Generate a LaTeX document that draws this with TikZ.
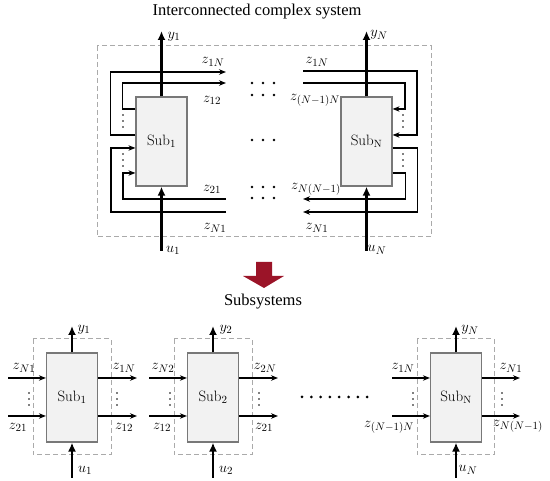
\documentclass[tikz,border=0pt]{standalone}
\usepackage{fontspec}
\newfontfamily\titlefont{Liberation Serif}
\usetikzlibrary{arrows.meta,calc}
\definecolor{boxgray}{RGB}{242,242,242}
\definecolor{edgegray}{RGB}{120,120,120}
\definecolor{dashgray}{RGB}{170,170,170}
\definecolor{darkred}{RGB}{155,20,40}
\tikzset{
  blk/.style={draw=edgegray, fill=boxgray, line width=1.2pt, minimum width=51pt, minimum height=89pt, inner sep=0pt, font=\fontsize{15}{17}\selectfont},
  frame/.style={draw=dashgray, dash pattern=on 5pt off 3pt, line width=1pt},
  sig/.style={line width=1.3pt, -{Stealth[length=7pt,width=5.5pt]}},
  io/.style={line width=2.8pt, -{Latex[length=9pt,width=8pt]}},
  lbl/.style={font=\fontsize{15}{17}\selectfont, inner sep=0pt},
  ttl/.style={font=\titlefont\fontsize{16.5}{18}\selectfont, inner sep=0pt},
  dotf/.style={fill=black},
}
\newcommand{\vdotsat}[2]{%
  \foreach \dd in {-6,0,6}{\fill[dotf] (#1,#2+\dd) circle (0.9pt);}%
}
\begin{document}
\begin{tikzpicture}[x=1pt,y=-1pt]
\path[use as bounding box] (0,0) rectangle (550,481);

% ---------- top: interconnected system ----------
\node[ttl] (title) at (257,12) {Interconnected complex system};
\draw[frame] (97,46) rectangle (431,237);
\node[blk] (S1) at (161.5,141.5) {$\mathrm{Sub}_1$};
\node[blk] (SN) at (366.5,141.5) {$\mathrm{Sub}_\mathrm{N}$};

\coordinate (ty1) at (161.5,31);
\coordinate (tu1) at (161.5,251);
\coordinate (tyN) at (366.5,31);
\coordinate (tuN) at (366.5,251);
\draw[io] (S1.north) -- (ty1);
\draw[io] (tu1) -- (S1.south);
\draw[io] (SN.north) -- (tyN);
\draw[io] (tuN) -- (SN.south);
\node[lbl] (ly1) at (174,37) {$y_1$};
\node[lbl] (lu1) at (173,250) {$u_1$};
\node[lbl] (lyN) at (379,35) {$y_N$};
\node[lbl] (luN) at (377,250) {$u_N$};

% Sub1 feedback lines
\coordinate (o1) at (226,72);
\coordinate (i1) at (226,83);
\coordinate (bi1) at (226,199);
\coordinate (bo1) at (226,212);
\draw[sig] ([yshift=6.5pt]S1.west) -- ++(-25,0) |- (o1);
\draw[sig] ([yshift=32.5pt]S1.west) -- ++(-13,0) |- (i1);
\draw[sig] (bi1) -- ++(-103,0) |- ([yshift=-31.5pt]S1.west);
\draw[sig] (bo1) -- ++(-115,0) |- ([yshift=-6.5pt]S1.west);
\node[lbl] (t1a) at (213,62) {$z_{1N}$};
\node[lbl] (t1b) at (212,100) {$z_{12}$};
\node[lbl] (t1c) at (212,189) {$z_{21}$};
\node[lbl] (t1d) at (215,228) {$z_{N1}$};
\vdotsat{123}{121}
\vdotsat{123}{160}

% SubN feedback lines
\coordinate (oN) at (303,71);
\coordinate (iN) at (303,83);
\coordinate (biN) at (303,199);
\coordinate (boN) at (303,212);
\draw[sig] (oN) -- ++(114,0) |- ([yshift=6.5pt]SN.east);
\draw[sig] (iN) -- ++(102,0) |- ([yshift=32.5pt]SN.east);
\draw[sig] ([yshift=-31.5pt]SN.east) -- ++(13,0) |- (biN);
\draw[sig] ([yshift=-6.5pt]SN.east) -- ++(25,0) |- (boN);
\node[lbl] (tNa) at (317,62) {$z_{1N}$};
\node[lbl] (tNb) at (315,100) {$z_{(N-1)N}$};
\node[lbl] (tNc) at (316,189) {$z_{N(N-1)}$};
\node[lbl] (tNd) at (317,228) {$z_{N1}$};
\vdotsat{403}{121}
\vdotsat{403}{160}

% middle dots
\foreach \yy in {83,95,140,187,198}{
  \foreach \xx in {252,263,274}{
    \fill[dotf] (\xx,\yy) circle (1.4pt);
  }
}

% ---------- red arrow ----------
\fill[darkred] (256,262) -- (272,262) -- (272,276) -- (284,276) -- (264,288) -- (243,276) -- (256,276) -- cycle;
\node[ttl] (subtitle) at (263,302) {Subsystems};

% ---------- bottom: subsystems ----------
% Sub1
\draw[frame] (33,339) rectangle (111,455);
\node[blk] (B1) at (72,397.5) {$\mathrm{Sub}_1$};
\coordinate (by1) at (72,326);
\coordinate (bu1) at (72,478);
\draw[io] (B1.north) -- (by1);
\draw[io] (bu1) -- (B1.south);
\coordinate (in1a) at (8,378);
\coordinate (in1b) at (8,416);
\coordinate (out1a) at (137,378);
\coordinate (out1b) at (137,416);
\draw[sig] (in1a) -- (in1a -| B1.west);
\draw[sig] (in1b) -- (in1b -| B1.west);
\draw[sig] (out1a -| B1.east) -- (out1a);
\draw[sig] (out1b -| B1.east) -- (out1b);
\node[lbl] (l1y) at (84,330) {$y_1$};
\node[lbl] (l1u) at (85,470) {$u_1$};
\node[lbl] (l1a) at (24,368) {$z_{N1}$};
\node[lbl] (l1b) at (18,427) {$z_{21}$};
\node[lbl] (l1c) at (124,368) {$z_{1N}$};
\node[lbl] (l1d) at (124,427) {$z_{12}$};
\vdotsat{29}{399}
\vdotsat{117}{399}

% Sub2
\draw[frame] (174,339) rectangle (252,455);
\node[blk] (B2) at (213,397.5) {$\mathrm{Sub}_2$};
\coordinate (by2) at (213,326);
\coordinate (bu2) at (213,478);
\draw[io] (B2.north) -- (by2);
\draw[io] (bu2) -- (B2.south);
\coordinate (in2a) at (149,378);
\coordinate (in2b) at (149,416);
\coordinate (out2a) at (278,378);
\coordinate (out2b) at (278,416);
\draw[sig] (in2a) -- (in2a -| B2.west);
\draw[sig] (in2b) -- (in2b -| B2.west);
\draw[sig] (out2a -| B2.east) -- (out2a);
\draw[sig] (out2b -| B2.east) -- (out2b);
\node[lbl] (l2y) at (226,330) {$y_2$};
\node[lbl] (l2u) at (226,470) {$u_2$};
\node[lbl] (l2a) at (163,368) {$z_{N2}$};
\node[lbl] (l2b) at (162,427) {$z_{12}$};
\node[lbl] (l2c) at (265,368) {$z_{2N}$};
\node[lbl] (l2d) at (264,427) {$z_{21}$};
\vdotsat{170}{399}
\vdotsat{259}{399}

% dots between
\foreach \xx in {0,...,7}{
  \fill[dotf] (302+\xx*9.3,397) circle (1.5pt);
}

% SubN
\draw[frame] (417,339) rectangle (494,455);
\node[blk] (BN) at (456,397.5) {$\mathrm{Sub}_\mathrm{N}$};
\coordinate (byN) at (456,326);
\coordinate (buN) at (456,478);
\draw[io] (BN.north) -- (byN);
\draw[io] (buN) -- (BN.south);
\coordinate (inNa) at (392,378);
\coordinate (inNb) at (392,416);
\coordinate (outNa) at (520,378);
\coordinate (outNb) at (520,416);
\draw[sig] (inNa) -- (inNa -| BN.west);
\draw[sig] (inNb) -- (inNb -| BN.west);
\draw[sig] (outNa -| BN.east) -- (outNa);
\draw[sig] (outNb -| BN.east) -- (outNb);
\node[lbl] (lNy) at (470,330) {$y_N$};
\node[lbl] (lNu) at (468,470) {$u_N$};
\node[lbl] (lNa) at (403,368) {$z_{1N}$};
\node[lbl] (lNb) at (389,427) {$z_{(N-1)N}$};
\node[lbl] (lNc) at (511,368) {$z_{N1}$};
\node[lbl] (lNd) at (518,426) {$z_{N(N-1)}$};
\vdotsat{413}{399}
\vdotsat{502}{399}
\end{tikzpicture}
\end{document}
